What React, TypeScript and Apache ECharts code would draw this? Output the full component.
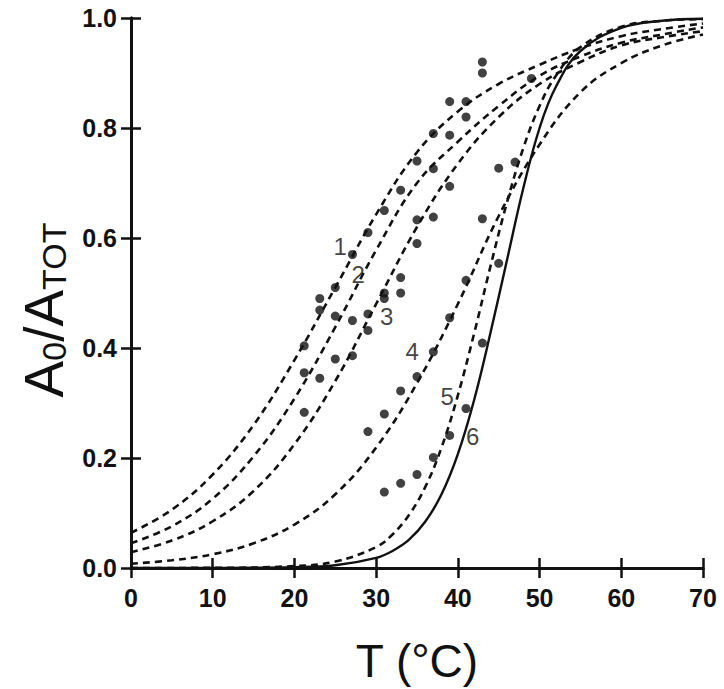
import React, { useEffect, useRef } from "react";
import * as echarts from "echarts";

// Temperatures (°C) at which the fitted curves were read
const T_GRID = [0, 5, 10, 15, 20, 25, 30, 35, 40, 45, 50, 55, 60, 65, 70];
const T_STEEP = [0, 10, 20, 25, 30, 32, 34, 36, 38, 40, 42, 44, 46, 48, 50, 52, 55, 60, 65, 70];

// Fitted curves (A0/ATOT)
const curve1 = [0.064, 0.106, 0.17, 0.26, 0.378, 0.51, 0.643, 0.756, 0.83, 0.88, 0.915, 0.945, 0.967, 0.98, 0.99];
const curve2 = [0.045, 0.076, 0.126, 0.203, 0.308, 0.438, 0.578, 0.7, 0.775, 0.84, 0.895, 0.93, 0.955, 0.97, 0.983];
const curve3 = [0.029, 0.05, 0.085, 0.14, 0.225, 0.34, 0.48, 0.62, 0.735, 0.82, 0.88, 0.92, 0.95, 0.965, 0.976];
const curve4 = [0.0078, 0.014, 0.025, 0.045, 0.079, 0.134, 0.219, 0.336, 0.48, 0.64, 0.77, 0.865, 0.918, 0.95, 0.97];
const curve5 = [0.0, 0.0003, 0.0035, 0.0117, 0.038, 0.061, 0.096, 0.147, 0.219, 0.314, 0.427, 0.549, 0.664, 0.763, 0.84, 0.895, 0.947, 0.984, 0.995, 0.998];
const curve6 = [0.0, 0.0001, 0.0014, 0.005, 0.0185, 0.031, 0.051, 0.084, 0.134, 0.207, 0.306, 0.428, 0.559, 0.69, 0.8, 0.875, 0.94, 0.982, 0.995, 0.9986];

// Measured points
const pointsT = [
  21.2, 21.2, 21.2,
  23.1, 23.1, 23.1,
  25, 25, 25,
  27.1, 27.1, 27.1,
  29, 29, 29, 29,
  31, 31, 31, 31, 31,
  33, 33, 33, 33, 33,
  35, 35, 35, 35, 35,
  37, 37, 37, 37, 37,
  39, 39, 39, 39, 39,
  41, 41, 41, 41,
  43, 43, 43, 43,
  45, 45,
  47,
  49,
];
const pointsV = [
  0.404, 0.355, 0.283,
  0.49, 0.469, 0.345,
  0.51, 0.458, 0.38,
  0.57, 0.45, 0.386,
  0.61, 0.462, 0.432, 0.248,
  0.65, 0.5, 0.49, 0.28, 0.138,
  0.687, 0.528, 0.5, 0.322, 0.154,
  0.74, 0.633, 0.59, 0.348, 0.17,
  0.79, 0.726, 0.638, 0.393, 0.201,
  0.848, 0.787, 0.694, 0.455, 0.241,
  0.848, 0.82, 0.523, 0.29,
  0.92, 0.9, 0.635, 0.409,
  0.727, 0.554,
  0.738,
  0.89,
];

// Curve number labels
const labelNames = ["1", "2", "3", "4", "5", "6"];
const labelT = [25.6, 27.8, 31.3, 34.4, 38.7, 41.8];
const labelV = [0.585, 0.533, 0.458, 0.393, 0.311, 0.239];

const X_TICKS = [0, 10, 20, 30, 40, 50, 60, 70];
const Y_TICKS = [0, 0.2, 0.4, 0.6, 0.8, 1.0];

const FONT = "Liberation Sans, Arial, Helvetica, sans-serif";

function zip(xs: number[], ys: number[]) {
  return xs.map((x, i) => [x, ys[i]]);
}

export default function App() {
  const ref = useRef<HTMLDivElement>(null);
  useEffect(() => {
    if (!ref.current) return;
    const chart = echarts.init(ref.current, null, { renderer: "svg" });
    const dashed = (name: string, xs: number[], ys: number[]) => ({
      name,
      type: "line",
      data: zip(xs, ys),
      smooth: 0.4,
      symbol: "none",
      lineStyle: { color: "#111", width: 2.6, type: [7, 5] },
      z: 2,
    });
    const baseAxisLine = { show: true, lineStyle: { color: "#111", width: 3 } };
    const tick = { show: true, inside: true, length: 10, lineStyle: { color: "#111", width: 2.5 } };
    chart.setOption({
      animation: false,
      backgroundColor: "#fff",
      grid: { left: 131, top: 18, width: 572, height: 572, containLabel: false },
      xAxis: [
        {
          type: "value",
          min: 0,
          max: 70,
          interval: 10,
          axisLine: baseAxisLine,
          axisTick: tick,
          splitLine: { show: false },
          axisLabel: {
            color: "#111",
            fontSize: 25,
            fontWeight: "bold",
            fontFamily: FONT,
            margin: 17,
            formatter: (v: number) => (X_TICKS.includes(v) ? String(v) : ""),
          },
          name: "T (°C)",
          nameLocation: "middle",
          nameGap: 70,
          nameTextStyle: { color: "#111", fontSize: 46, fontFamily: FONT },
        },
        {
          type: "value",
          position: "top",
          min: 0,
          max: 70,
          interval: 10,
          axisLine: baseAxisLine,
          axisTick: tick,
          axisLabel: { show: false },
          splitLine: { show: false },
        },
      ],
      yAxis: [
        {
          type: "value",
          min: 0,
          max: 1,
          interval: 0.2,
          axisLine: baseAxisLine,
          axisTick: tick,
          splitLine: { show: false },
          axisLabel: {
            color: "#111",
            fontSize: 25,
            fontWeight: "bold",
            fontFamily: FONT,
            margin: 14,
            formatter: (v: number) => {
              const t = Y_TICKS.find((y) => Math.abs(y - v) < 1e-6);
              return t === undefined ? "" : t.toFixed(1);
            },
          },
        },
        {
          type: "value",
          position: "right",
          min: 0,
          max: 1,
          interval: 0.2,
          axisLine: baseAxisLine,
          axisTick: tick,
          axisLabel: { show: false },
          splitLine: { show: false },
        },
      ],
      graphic: [
        {
          type: "text",
          x: 40,
          y: 310,
          rotation: Math.PI / 2,
          style: {
            text: "{a|A}{s|0}{a|/A}{s|TOT}",
            align: "center",
            verticalAlign: "middle",
            fill: "#111",
            rich: {
              a: { fontSize: 55, fontFamily: FONT, fill: "#111", lineHeight: 62, verticalAlign: "bottom" },
              s: { fontSize: 34, fontFamily: FONT, fill: "#111", lineHeight: 62, verticalAlign: "bottom" },
            },
          },
        },
      ],
      series: [
        dashed("1", T_GRID, curve1),
        dashed("2", T_GRID, curve2),
        dashed("3", T_GRID, curve3),
        dashed("4", T_GRID, curve4),
        dashed("5", T_STEEP, curve5),
        {
          name: "6",
          type: "line",
          data: zip(T_STEEP, curve6),
          smooth: 0.4,
          symbol: "none",
          lineStyle: { color: "#111", width: 2.4, type: "solid" },
          z: 2,
        },
        {
          name: "data",
          type: "scatter",
          data: zip(pointsT, pointsV),
          symbol: "circle",
          symbolSize: 9,
          itemStyle: { color: "#111" },
          z: 3,
        },
        {
          name: "labels",
          type: "scatter",
          data: labelNames.map((n, i) => ({ value: [labelT[i], labelV[i]], name: n })),
          symbolSize: 0,
          label: {
            show: true,
            position: "inside",
            formatter: (p: any) => p.name,
            color: "#111",
            fontSize: 24,
            fontFamily: FONT,
          },
          z: 4,
        },
      ],
    });
    return () => chart.dispose();
  }, []);
  return (
    <div
      ref={ref}
      style={{ position: "fixed", left: 0, top: 0, width: 724, height: 689 }}
    />
  );
}
